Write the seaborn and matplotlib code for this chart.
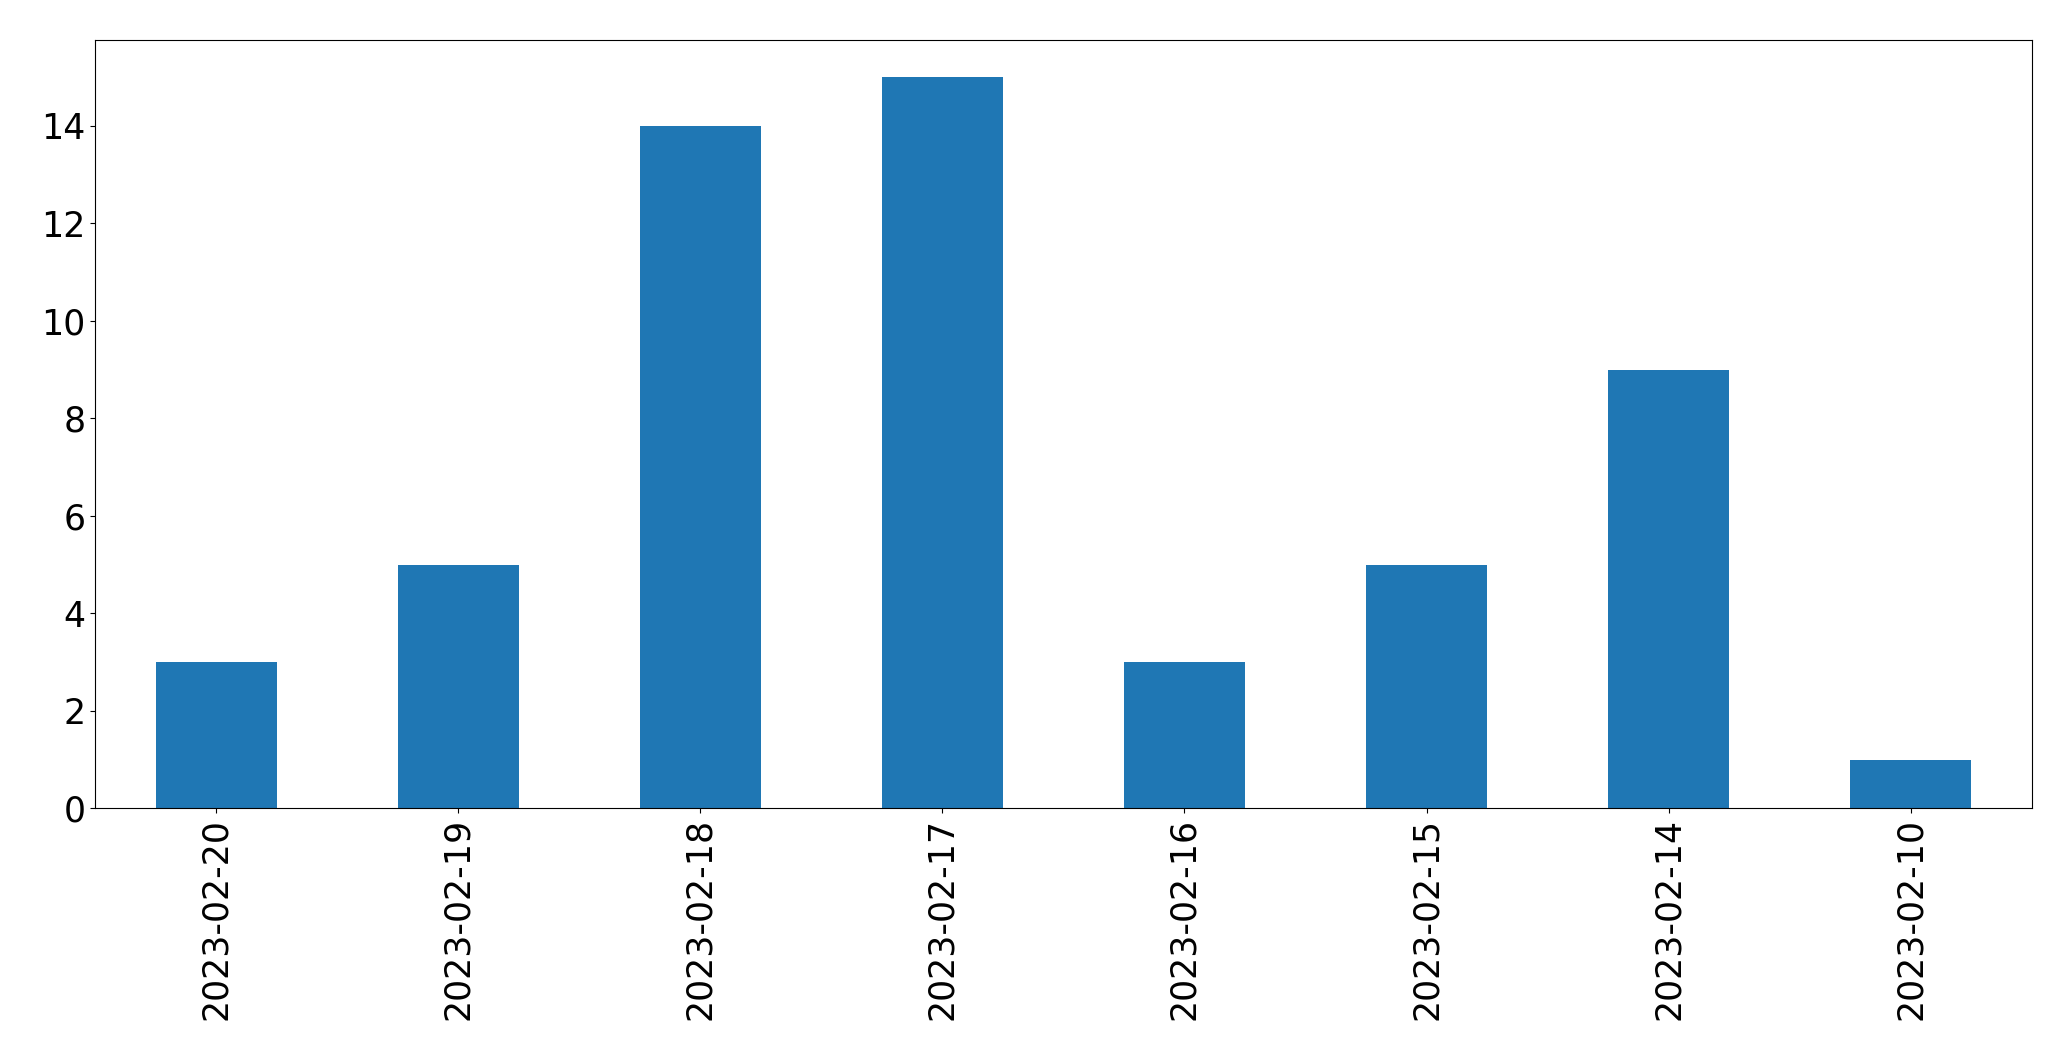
import pandas as pd
import matplotlib
matplotlib.use("Agg")
import matplotlib.pyplot as plt
import seaborn as sns

# values
dates = ['2023-02-20', '2023-02-19', '2023-02-18', '2023-02-17',
         '2023-02-16', '2023-02-15', '2023-02-14', '2023-02-10']
counts = [3, 5, 14, 15, 3, 5, 9, 1]

df = pd.DataFrame({'date': dates, 'count': counts})

fig, ax = plt.subplots(figsize=(20.71, 10.61), dpi=100)
fig.subplots_adjust(left=0.046, right=0.981, top=0.962, bottom=0.238)

sns.barplot(x='date', y='count', data=df, order=dates, color='#1f77b4',
            saturation=1, width=0.5, linewidth=0, ax=ax)

ax.set_xlabel('')
ax.set_ylabel('')
ax.set_xlim(-0.5, len(dates) - 0.5)
ax.set_ylim(0, 15.75)
ax.tick_params(axis='both', labelsize=25)
plt.xticks(rotation=90)

fig.savefig('out.png', dpi=100)
